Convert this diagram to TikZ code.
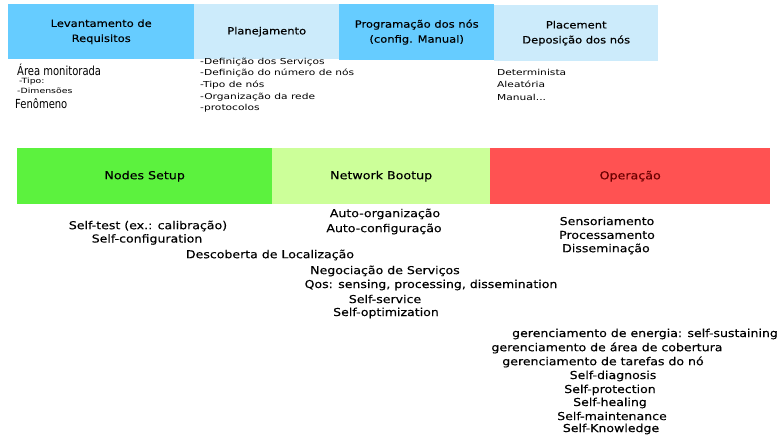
\documentclass[tikz,border=0pt]{standalone}
\usepackage{fontspec}
\setmainfont[FakeStretch=1.15,FakeBold=0.3]{DejaVu Sans}
\newfontfamily\widefont[FakeStretch=1.3]{DejaVu Sans}
\newfontfamily\narrowfont[FakeStretch=0.8]{DejaVu Sans}
\definecolor{bluedark}{HTML}{66CCFF}
\definecolor{bluelight}{HTML}{CCEBFB}
\definecolor{greendark}{HTML}{5CF23E}
\definecolor{greenlight}{HTML}{CCFF99}
\definecolor{redop}{HTML}{FF5252}
\definecolor{txtred}{HTML}{6B0000}
\tikzset{
  phase/.style={anchor=north west, inner sep=0pt, align=center, font=\fontsize{10}{15}\selectfont},
  phaseb/.style={phase, font=\fontsize{11}{13}\selectfont},
  small/.style={anchor=west, inner sep=0pt, font=\widefont\fontsize{8.2}{9}\selectfont},
  tiny/.style={anchor=west, inner sep=0pt, font=\widefont\fontsize{7.2}{8}\selectfont},
  big/.style={anchor=west, inner sep=0pt, font=\narrowfont\fontsize{12.5}{13}\selectfont},
  item/.style={inner sep=0pt, font=\fontsize{10.9}{12}\selectfont},
}
\begin{document}
\begin{tikzpicture}[x=1pt,y=-1pt]
\useasboundingbox (0,0) rectangle (780,438);
% top phases
\node[phase, fill=bluedark, minimum width=186pt, minimum height=55pt] (req) at (8,4) {Levantamento de\\Requisitos};
\node[phase, fill=bluelight, minimum width=145pt, minimum height=55pt] (plan) at (194,4) {Planejamento};
\node[phase, fill=bluedark, minimum width=155pt, minimum height=56pt] (prog) at (339,4) {Programação dos nós\\(config. Manual)};
\node[phase, fill=bluelight, minimum width=164pt, minimum height=56pt] (place) at (494,5) {Placement\\Deposição dos nós};
% requisitos details
\node[big] (area) at (17,69.5) {Área monitorada};
\node[tiny] (tipo) at (19,81.5) {-Tipo:};
\node[tiny] (dim) at (17,91) {-Dimensões};
\node[big] (fen) at (15,104) {Fenômeno};
% planejamento details
\node[small] (p1) at (200,62) {-Definição dos Serviços};
\node[small] (p2) at (200,73) {-Definição do número de nós};
\node[small] (p3) at (200,85) {-Tipo de nós};
\node[small] (p4) at (200,97) {-Organização da rede};
\node[small] (p5) at (200,108) {-protocolos};
% placement details
\node[small] (d1) at (497,72) {Determinista};
\node[small] (d2) at (497,84) {Aleatória};
\node[small] (d3) at (497,97) {Manual...};
% bottom phases
\node[phaseb, fill=greendark, minimum width=255pt, minimum height=56pt] (setup) at (17,148) {Nodes Setup};
\node[phaseb, fill=greenlight, minimum width=218pt, minimum height=56pt] (boot) at (272,148) {Network Bootup};
\node[phaseb, fill=redop, minimum width=280pt, minimum height=56pt, text=txtred] (oper) at (490,148) {Operação};
% setup items
\node[item] (s1) at (148,226) {Self-test (ex.: calibração)};
\node[item] (s2) at (147,239.5) {Self-configuration};
\node[item] (s3) at (270,255) {Descoberta de Localização};
% bootup items
\node[item] (b1) at (385,214) {Auto-organização};
\node[item] (b2) at (384,229) {Auto-configuração};
\node[item] (b3) at (385,271) {Negociação de Serviços};
\node[item] (b4) at (431,285) {Qos: sensing, processing, dissemination};
\node[item] (b5) at (385,299) {Self-service};
\node[item] (b6) at (386,313) {Self-optimization};
% operation items
\node[item] (o1) at (607,221) {Sensoriamento};
\node[item] (o2) at (607,235) {Processamento};
\node[item] (o3) at (606,249) {Disseminação};
\node[item] (o4) at (645,334) {gerenciamento de energia: self-sustaining};
\node[item] (o5) at (607,348) {gerenciamento de área de cobertura};
\node[item] (o6) at (603,362) {gerenciamento de tarefas do nó};
\node[item] (o7) at (613,376) {Self-diagnosis};
\node[item] (o8) at (610,390) {Self-protection};
\node[item] (o9) at (610,403) {Self-healing};
\node[item] (o10) at (612,416) {Self-maintenance};
\node[item] (o11) at (611,429) {Self-Knowledge};
\end{tikzpicture}
\end{document}
